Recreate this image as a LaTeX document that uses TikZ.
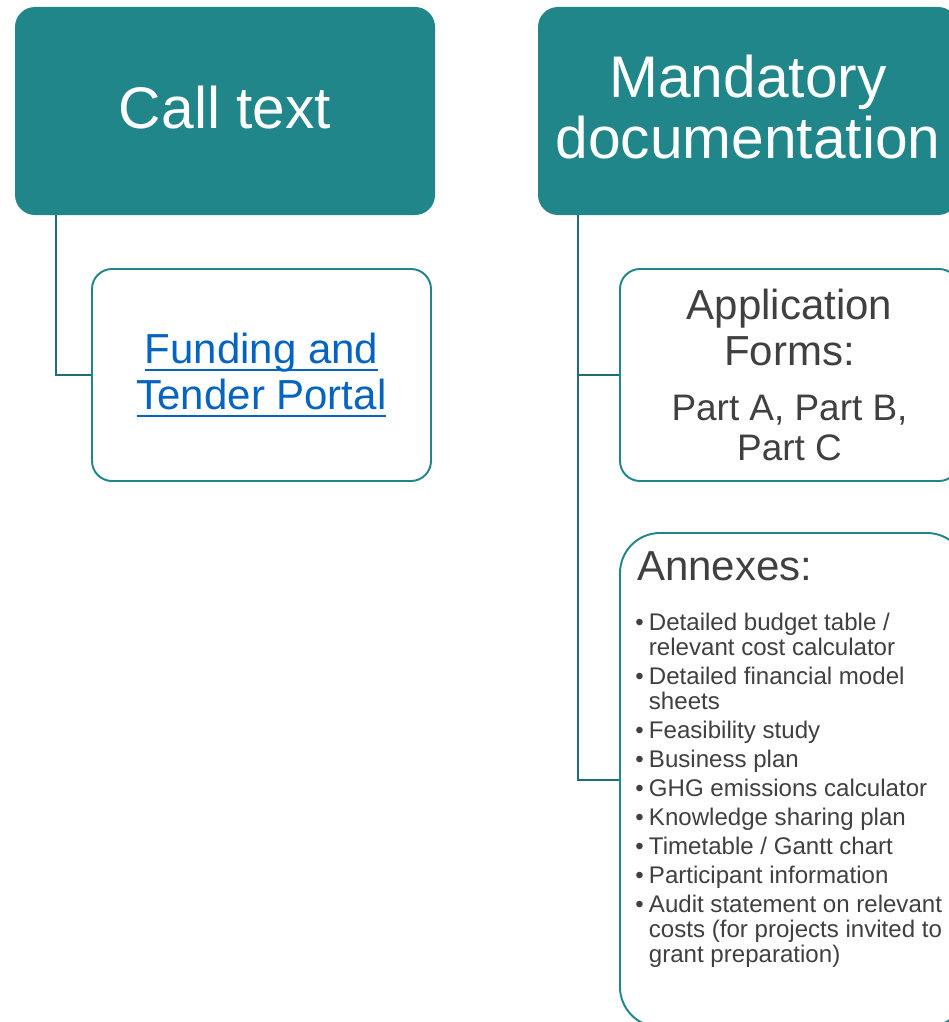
\documentclass[tikz,border=0pt]{standalone}
\usepackage{fontspec}
\setmainfont{Liberation Sans}
\usetikzlibrary{calc}
\definecolor{headteal}{RGB}{32,134,137}
\definecolor{branchteal}{RGB}{29,110,117}
\definecolor{bodygray}{RGB}{64,64,64}
\definecolor{portalblue}{RGB}{5,99,193}
\newcommand{\portalline}[1]{\setbox0\hbox{#1}\rlap{\rule[-4.6pt]{\wd0}{1.1pt}}\box0}
\newcommand{\annexitem}{\par\vspace{2.3pt}\noindent\llap{\textbullet\kern3pt}}
\newcommand{\partsize}{\fontsize{21}{22.8}\selectfont}
\tikzset{head/.style={fill=headteal,rounded corners=0.4cm,text=white,align=center,font=\fontsize{33.4}{34.7}\selectfont,text depth=0.16cm,minimum width=8.4cm,minimum height=4.16cm},leaf/.style={draw=headteal,line width=1.1pt,fill=white,rounded corners=0.4cm,text=bodygray,align=center,font=\fontsize{23.9}{26.2}\selectfont,minimum width=6.78cm,minimum height=4.24cm},branch/.style={draw=branchteal,line width=1.1pt}}

\begin{document}
\begin{tikzpicture}
\useasboundingbox (0,0) rectangle (18.96,-20.44);
\node[head] (calltext) at (4.5,-2.22) {Call text};
\node[head] (mandatory) at (14.96,-2.22) {Mandatory\\documentation};
\node[leaf,text=portalblue] (portal) at (5.23,-7.5)
{\portalline{Funding and}\\\portalline{Tender Portal}};
\node[leaf] (appforms) at (15.79,-7.5)
{Application\\Forms:\\[5.1pt]{\partsize Part A, Part B,}\\[-3.4pt]{\partsize Part C}};
\node[leaf,rounded corners=0.8cm,minimum width=6.94cm,minimum height=9.88cm,inner xsep=0.34cm,inner ysep=0.38cm,align=left] (annexes) at (15.87,-15.6)
{\parbox[t][9.12cm][t]{6.26cm}{\raggedright\fontsize{23.9}{27}\selectfont Annexes:\par
\fontsize{13.7}{14.2}\selectfont\leftskip=6.8pt\vspace{12pt}
\annexitem Detailed budget table /\\relevant cost calculator
\annexitem Detailed financial model\\sheets
\annexitem Feasibility study
\annexitem Business plan
\annexitem GHG emissions calculator
\annexitem Knowledge sharing plan
\annexitem Timetable / Gantt chart
\annexitem Participant information
\annexitem Audit statement on relevant\\costs (for projects invited to\\grant preparation)\par}};
\draw[branch] ($(calltext.south west)+(0.82,0)$) |- (portal.west);
\draw[branch] ($(mandatory.south west)+(0.8,0)$) |- (appforms.west);
\draw[branch] ($(mandatory.south west)+(0.8,0)$) |- (annexes.west);
\end{tikzpicture}
\end{document}
